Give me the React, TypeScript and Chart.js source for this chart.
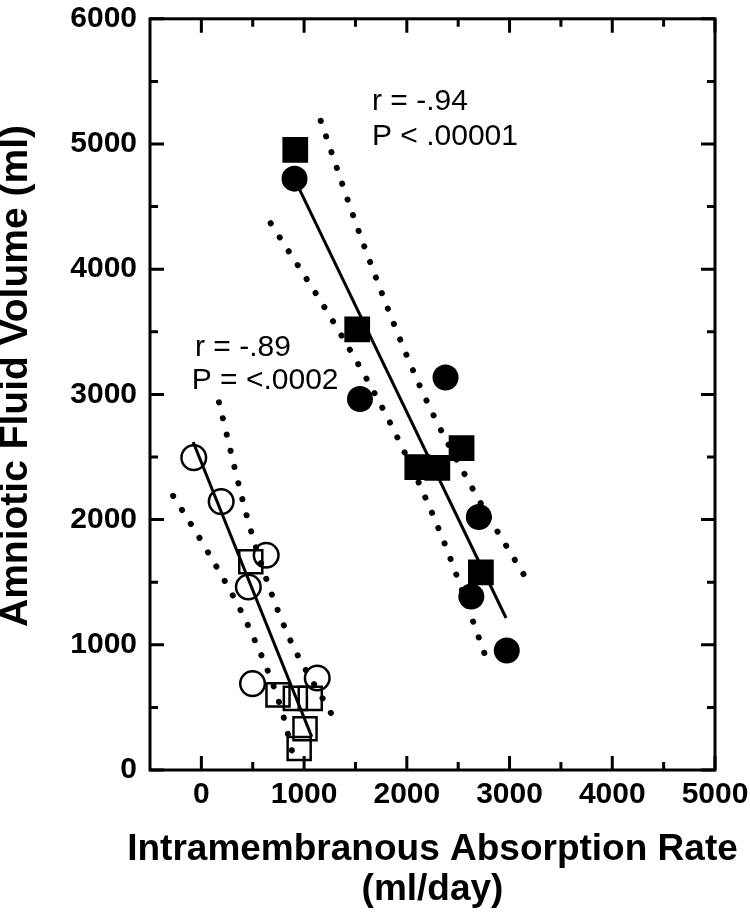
import React, { useEffect, useRef } from "react";
import { Chart, registerables } from "chart.js";

Chart.register(...registerables);

// Axis ticks
const xTicks = [0, 1000, 2000, 3000, 4000, 5000];
const xMinorTicks = [500, 1500, 2500, 3500, 4500];
const yTicks = [0, 1000, 2000, 3000, 4000, 5000, 6000];
const yMinorTicks = [500, 1500, 2500, 3500, 4500, 5500];

// Lower group: open symbols
const openCircleX = [-74, 193, 457, 631, 498, 1128];
const openCircleY = [2495, 2144, 1462, 1715, 690, 735];
const openSquareX = [481, 746, 915, 1060, 1009, 952];
const openSquareY = [1664, 600, 572, 572, 330, 171];

// Upper group: filled symbols
const filledSquareX = [914, 1517, 2102, 2297, 2533, 2721];
const filledSquareY = [4954, 3519, 2420, 2414, 2570, 1578];
const filledCircleX = [907, 1544, 2377, 2701, 2628, 2973];
const filledCircleY = [4723, 2963, 3135, 2021, 1385, 954];

// Regression lines
const fitOpenX = [-80, 1075];
const fitOpenY = [2620, 265];
const fitFilledX = [907, 2966];
const fitFilledY = [4720, 1214];

// Confidence bands (dotted)
const upperOpenX = [171, 473, 824, 1262];
const upperOpenY = [2937, 1939, 1114, 454];
const lowerOpenX = [-275, 50, 473, 782, 910];
const lowerOpenY = [2190, 1760, 1121, 475, 60];
const upperFilledX = [1162, 1580, 2145, 2667, 3151];
const upperFilledY = [5185, 4195, 3034, 2208, 1544];
const lowerFilledX = [675, 1317, 1852, 2340, 2771];
const lowerFilledY = [4367, 3536, 2749, 1866, 897];

// Annotations
const noteText = ["r = -.94", "P < .00001", "r = -.89", "P = <.0002"];
const noteX = [1661, 1661, -62, -94];
const noteY = [5272, 4992, 3303, 3040];

const xTitle = ["Intramembranous Absorption Rate", "(ml/day)"];
const yTitle = "Amniotic Fluid Volume (ml)";

const FONT = "'Liberation Sans', Arial, Helvetica, sans-serif";

const pts = (xs: number[], ys: number[]) => xs.map((x, i) => ({ x, y: ys[i] }));

const framePlugin = {
  id: "frameTicks",
  afterDatasetsDraw(chart: any) {
    const { ctx, chartArea, scales } = chart;
    const { left, right, top, bottom } = chartArea;
    const xs = scales.x;
    const ys = scales.y;
    ctx.save();
    ctx.strokeStyle = "#000";
    ctx.lineWidth = 3;
    ctx.lineCap = "butt";
    ctx.strokeRect(left, top, right - left, bottom - top);
    const MAJ = 14;
    const MIN = 8;
    ctx.beginPath();
    const vx = (vals: number[], len: number) => {
      vals.forEach((v) => {
        const p = xs.getPixelForValue(v);
        ctx.moveTo(p, bottom);
        ctx.lineTo(p, bottom - len);
        ctx.moveTo(p, top);
        ctx.lineTo(p, top + len);
      });
    };
    const vy = (vals: number[], len: number) => {
      vals.forEach((v) => {
        const p = ys.getPixelForValue(v);
        ctx.moveTo(left, p);
        ctx.lineTo(left + len, p);
        ctx.moveTo(right, p);
        ctx.lineTo(right - len, p);
      });
    };
    vx(xTicks, MAJ);
    vx(xMinorTicks, MIN);
    vy(yTicks, MAJ);
    vy(yMinorTicks, MIN);
    ctx.stroke();

    ctx.fillStyle = "#000";
    ctx.font = `30px ${FONT}`;
    ctx.textAlign = "left";
    ctx.textBaseline = "alphabetic";
    noteText.forEach((t, i) => {
      ctx.fillText(t, xs.getPixelForValue(noteX[i]), ys.getPixelForValue(noteY[i]));
    });

    // X axis title (two lines, centred on the plot area)
    ctx.font = `bold 37px ${FONT}`;
    ctx.textAlign = "center";
    ctx.textBaseline = "middle";
    const cx = (left + right) / 2;
    ctx.fillText(xTitle[0], cx, 850);
    ctx.fillText(xTitle[1], cx, 890);

    // Y axis title
    ctx.font = `bold 39px ${FONT}`;
    ctx.translate(16, 376);
    ctx.rotate(-Math.PI / 2);
    ctx.fillText(yTitle, 0, 0);
    ctx.restore();
  },
};

export default function App() {
  const ref = useRef<HTMLCanvasElement | null>(null);
  useEffect(() => {
    if (!ref.current) return;
    const solid = (xs: number[], ys: number[]) => ({
      type: "line" as const,
      data: pts(xs, ys),
      showLine: true,
      borderColor: "#000",
      borderWidth: 3,
      pointRadius: 0,
      fill: false,
    });
    const dotted = (xs: number[], ys: number[]) => ({
      type: "line" as const,
      data: pts(xs, ys),
      showLine: true,
      borderColor: "#000",
      borderWidth: 6,
      borderDash: [0.1, 16.5],
      borderCapStyle: "round" as const,
      cubicInterpolationMode: "monotone" as const,
      pointRadius: 0,
      fill: false,
    });
    const chart = new Chart(ref.current, {
      type: "scatter",
      data: {
        datasets: [
          dotted(upperOpenX, upperOpenY),
          dotted(lowerOpenX, lowerOpenY),
          dotted(upperFilledX, upperFilledY),
          dotted(lowerFilledX, lowerFilledY),
          solid(fitOpenX, fitOpenY),
          solid(fitFilledX, fitFilledY),
          {
            data: pts(openCircleX, openCircleY),
            pointStyle: "circle",
            pointRadius: 12.3,
            pointBorderWidth: 2.5,
            pointBorderColor: "#000",
            pointBackgroundColor: "rgba(0,0,0,0)",
          },
          {
            data: pts(openSquareX, openSquareY),
            pointStyle: "rect",
            pointRadius: 16.3,
            pointBorderWidth: 2.5,
            pointBorderColor: "#000",
            pointBackgroundColor: "rgba(0,0,0,0)",
          },
          {
            data: pts(filledSquareX, filledSquareY),
            pointStyle: "rect",
            pointRadius: 18.2,
            pointBorderWidth: 0,
            pointBackgroundColor: "#000",
          },
          {
            data: pts(filledCircleX, filledCircleY),
            pointStyle: "circle",
            pointRadius: 13,
            pointBorderWidth: 0,
            pointBackgroundColor: "#000",
          },
        ] as any,
      },
      options: {
        responsive: false,
        animation: false,
        events: [],
        layout: { padding: { top: 12, right: 35, left: 0, bottom: 0 } },
        plugins: { legend: { display: false }, tooltip: { enabled: false } },
        scales: {
          x: {
            type: "linear",
            min: -500,
            max: 5000,
            afterBuildTicks: (s: any) => {
              s.ticks = xTicks.map((v) => ({ value: v }));
            },
            afterFit: (s: any) => {
              s.height = 143;
              s.paddingLeft = 0;
              s.paddingRight = 0;
            },
            grid: { display: false, drawTicks: false },
            border: { display: false },
            ticks: {
              padding: 8,
              color: "#000",
              maxRotation: 0,
              autoSkip: false,
              callback: (v: any) => String(v),
              font: { family: FONT, size: 30, weight: "bold", lineHeight: 1.1 },
            },
            title: { display: false },
          },
          y: {
            type: "linear",
            min: 0,
            max: 6000,
            afterBuildTicks: (s: any) => {
              s.ticks = yTicks.map((v) => ({ value: v }));
            },
            afterFit: (s: any) => {
              s.width = 150;
              s.paddingTop = 0;
              s.paddingBottom = 0;
            },
            grid: { display: false, drawTicks: false },
            border: { display: false },
            ticks: {
              padding: 13,
              color: "#000",
              autoSkip: false,
              callback: (v: any) => String(v),
              font: { family: FONT, size: 30, weight: "bold", lineHeight: 1.1 },
            },
            title: { display: false },
          },
        },
      } as any,
      plugins: [framePlugin],
    });
    return () => chart.destroy();
  }, []);
  return (
    <div style={{ position: "absolute", left: 0, top: 0, width: 750, height: 913, background: "#fff" }}>
      <canvas ref={ref} width={750} height={913} style={{ display: "block" }} />
    </div>
  );
}
